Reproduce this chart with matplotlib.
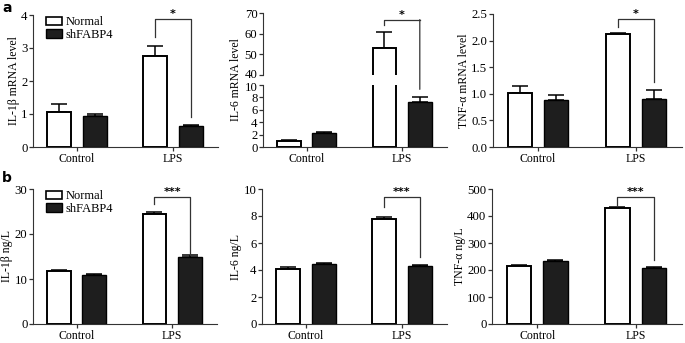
import matplotlib.pyplot as plt
from matplotlib.patches import ConnectionPatch, Patch
from matplotlib.transforms import ScaledTranslation
import numpy as np

plt.rcParams['font.family'] = ['Liberation Serif', 'DejaVu Serif']

groups = ["Control", "LPS"]
series = ["Normal", "shFABP4"]

# row a: mRNA levels
il1b_mrna_normal = [1.05, 2.75]
il1b_mrna_normal_err = [0.24, 0.30]
il1b_mrna_sh = [0.93, 0.63]
il1b_mrna_sh_err = [0.08, 0.03]

il6_mrna_normal = [1.0, 53.0]
il6_mrna_normal_err = [0.1, 8.0]
il6_mrna_sh = [2.2, 7.2]
il6_mrna_sh_err = [0.3, 0.8]

tnf_mrna_normal = [1.02, 2.12]
tnf_mrna_normal_err = [0.12, 0.02]
tnf_mrna_sh = [0.89, 0.90]
tnf_mrna_sh_err = [0.09, 0.18]

# row b: protein ng/L
il1b_ng_normal = [11.8, 24.4]
il1b_ng_normal_err = [0.3, 0.5]
il1b_ng_sh = [10.9, 15.0]
il1b_ng_sh_err = [0.2, 0.3]

il6_ng_normal = [4.1, 7.8]
il6_ng_normal_err = [0.12, 0.1]
il6_ng_sh = [4.45, 4.3]
il6_ng_sh_err = [0.1, 0.06]

tnf_ng_normal = [213, 428]
tnf_ng_normal_err = [4, 5]
tnf_ng_sh = [235, 208]
tnf_ng_sh_err = [2, 4]

W, H = 685, 343
fig = plt.figure(figsize=(W / 100, H / 100), dpi=100)

x = np.arange(len(groups))
off = 0.185
bw = 0.25
dark = '#1e1e1e'
spine_c = '#333333'
fs = 8.5
yfs = 9.2


def px_axes(left, top, right, bottom):
    return fig.add_axes([left / W, 1 - bottom / H, (right - left) / W, (bottom - top) / H])


def style(ax, bottom=True):
    for s in ['top', 'right']:
        ax.spines[s].set_visible(False)
    ax.spines['left'].set_color(spine_c)
    ax.spines['bottom'].set_color(spine_c)
    ax.tick_params(axis='both', length=3, width=0.9, color=spine_c, pad=1)
    ax.tick_params(axis='x', labelsize=fs)
    ax.tick_params(axis='y', labelsize=yfs)
    ax.set_xlim(-0.458, 1.47)
    if bottom:
        ax.set_xticks(x)
        ax.set_xticklabels(groups)
    else:
        ax.spines['bottom'].set_visible(False)
        ax.set_xticks([])


def bars(ax, normal, nerr, sh, sherr):
    zeros = [0] * len(groups)
    ax.bar(x - off, normal, bw, color='white', edgecolor='black', linewidth=1.4, zorder=2)
    ax.bar(x + off, sh, bw, color=dark, edgecolor='black', linewidth=1.0, zorder=2)
    ax.errorbar(x - off, normal, yerr=[zeros, nerr], fmt='none', ecolor='black',
                elinewidth=1.1, capsize=5.5, capthick=1.1, zorder=1)
    ax.errorbar(x + off, sh, yerr=[zeros, sherr], fmt='none', ecolor='black',
                elinewidth=1.1, capsize=5.5, capthick=1.1, zorder=1)


def star(ax, xc, y, label):
    ax.text(xc, y, label, ha='center', va='bottom', fontsize=8,
            family='DejaVu Sans', fontweight='bold')


def bracket(ax, yl, yt, yr, label):
    xl, xr = x[1] - off, x[1] + off
    ax.plot([xl, xl, xr, xr], [yl, yt, yt, yr], color='#333333', lw=0.9, clip_on=False)
    star(ax, (xl + xr) / 2, yt, label)


def legend(ax):
    handles = [Patch(facecolor='white', edgecolor='black', linewidth=1.2),
               Patch(facecolor=dark, edgecolor='black', linewidth=1.0)]
    ax.legend(handles, series, loc='upper left', bbox_to_anchor=(0.07, 0.99),
              frameon=False, fontsize=9, handlelength=1.3, handleheight=0.65,
              handletextpad=0.3, labelspacing=0.05, borderpad=0, borderaxespad=0)


# panel a1
ax = px_axes(33, 15, 218, 147)
bars(ax, il1b_mrna_normal, il1b_mrna_normal_err, il1b_mrna_sh, il1b_mrna_sh_err)
style(ax)
ax.set_ylim(0, 4)
ax.set_yticks([0, 1, 2, 3, 4])
ax.set_ylabel("IL-1β mRNA level", fontsize=fs, labelpad=1)
bracket(ax, 3.34, 3.87, 0.91, "*")
legend(ax)

# panel a2 (broken axis)
ax_lo = px_axes(263, 85, 447, 147)
ax_hi = px_axes(263, 13, 447, 75)
bars(ax_lo, il6_mrna_normal, il6_mrna_normal_err, il6_mrna_sh, il6_mrna_sh_err)
bars(ax_hi, il6_mrna_normal, il6_mrna_normal_err, il6_mrna_sh, il6_mrna_sh_err)
style(ax_lo)
style(ax_hi, bottom=False)
ax_lo.set_ylim(0, 10)
ax_lo.set_yticks([0, 2, 4, 6, 8, 10])
ax_hi.set_ylim(40, 70)
ax_hi.set_yticks([40, 50, 60, 70])
# nudge the two labels either side of the break apart a little
lbl40 = ax_hi.get_yticklabels()[0]
lbl40.set_transform(lbl40.get_transform() + ScaledTranslation(0, 1.2 / 72, fig.dpi_scale_trans))
lbl10 = ax_lo.get_yticklabels()[-1]
lbl10.set_transform(lbl10.get_transform() + ScaledTranslation(0, -1.2 / 72, fig.dpi_scale_trans))
fig.text(236 / W, 1 - 80 / H, "IL-6 mRNA level", rotation=90, ha='center', va='center', fontsize=fs)
xl, xr = x[1] - off, x[1] + off
ax_hi.plot([xl, xl, xr], [64, 66.8, 66.8], color='#333333', lw=0.9, clip_on=False)
star(ax_hi, (xl + xr) / 2, 66.8, "*")
con = ConnectionPatch(xyA=(xr, 66.8), coordsA=ax_hi.transData,
                      xyB=(xr, 9.3), coordsB=ax_lo.transData,
                      arrowstyle='-', color='#333333', lw=0.9)
fig.add_artist(con)

# panel a3
ax = px_axes(493, 14, 682, 147)
bars(ax, tnf_mrna_normal, tnf_mrna_normal_err, tnf_mrna_sh, tnf_mrna_sh_err)
style(ax)
ax.set_ylim(0, 2.5)
ax.set_yticks([0, 0.5, 1.0, 1.5, 2.0, 2.5])
ax.set_yticklabels(["0.0", "0.5", "1.0", "1.5", "2.0", "2.5"])
ax.set_ylabel("TNF-α mRNA level", fontsize=fs, labelpad=1)
bracket(ax, 2.25, 2.40, 1.22, "*")

# panel b1
ax = px_axes(33, 189, 217, 324)
bars(ax, il1b_ng_normal, il1b_ng_normal_err, il1b_ng_sh, il1b_ng_sh_err)
style(ax)
ax.set_ylim(0, 30)
ax.set_yticks([0, 10, 20, 30])
ax.set_ylabel("IL-1β ng/L", fontsize=fs, labelpad=1)
bracket(ax, 26.7, 28.2, 15.4, "***")
legend(ax)

# panel b2
ax = px_axes(262, 189, 447, 324)
bars(ax, il6_ng_normal, il6_ng_normal_err, il6_ng_sh, il6_ng_sh_err)
style(ax)
ax.set_ylim(0, 10)
ax.set_yticks([0, 2, 4, 6, 8, 10])
ax.set_ylabel("IL-6 ng/L", fontsize=fs, labelpad=1)
bracket(ax, 8.64, 9.38, 4.94, "***")

# panel b3
ax = px_axes(492, 189, 682, 324)
bars(ax, tnf_ng_normal, tnf_ng_normal_err, tnf_ng_sh, tnf_ng_sh_err)
style(ax)
ax.set_ylim(0, 500)
ax.set_yticks([0, 100, 200, 300, 400, 500])
ax.set_ylabel("TNF-α ng/L", fontsize=fs, labelpad=1)
bracket(ax, 437, 469, 237, "***")

fig.text(2 / W, 1 - 1 / H, "a", fontsize=10, fontweight='bold', family='DejaVu Sans', va='top')
fig.text(2 / W, 1 - 171 / H, "b", fontsize=10, fontweight='bold', family='DejaVu Sans', va='top')

fig.savefig("out.png", dpi=100)
